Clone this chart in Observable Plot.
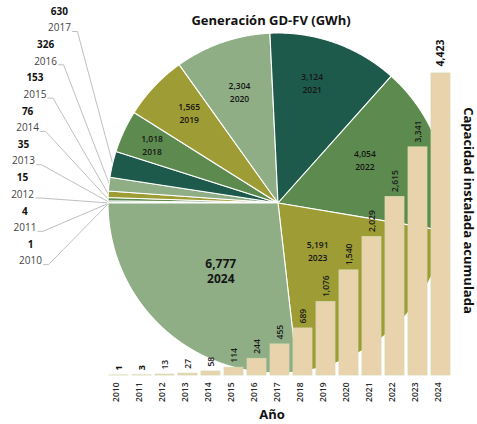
<!DOCTYPE html>
<html>
<head>
<meta charset="utf-8">
<script src="https://cdn.jsdelivr.net/npm/d3@7"></script>
<script src="https://cdn.jsdelivr.net/npm/@observablehq/plot@0.6"></script>
<style>
  body { margin: 0; background: #fff; }
  #chart { position: relative; width: 477px; height: 424px; }
  #chart svg { position: absolute; left: 0; top: 0; }
</style>
</head>
<body>
<div id="chart"></div>
<script>
// ---- data ----
const years = [2010, 2011, 2012, 2013, 2014, 2015, 2016, 2017, 2018, 2019, 2020, 2021, 2022, 2023, 2024];
const generation = [1, 4, 15, 35, 76, 153, 326, 630, 1018, 1565, 2304, 3124, 4054, 5191, 6777]; // GWh
const capacity = [1, 3, 13, 27, 58, 114, 244, 455, 689, 1076, 1540, 2029, 2615, 3341, 4423];     // accumulated
const titleText = "Generación GD-FV (GWh)";
const rightTitle = "Capacidad instalada acumulada";
const xTitle = "Año";

// ---- layout / style ----
const W = 477, H = 424;
const CX = 278, CY = 203, R = 170;
const palette = ["#8fae86", "#9e9c35", "#5d8a4f", "#1e5a4b"];
const colorOf = y => palette[(2024 - y) % 4];
const fmt = d3.format(",");
const font = "'Open Sans', 'Noto Sans', sans-serif";

const rows = years.map((y, i) => ({year: String(y), yr: y, gen: generation[i], cap: capacity[i]}));

// pie geometry from d3.pie
const arcs = d3.pie().sort(null).value(d => d.gen)
  .startAngle(-Math.PI / 2).endAngle(3 * Math.PI / 2)(rows);

const slicePts = arcs.flatMap(a => {
  const n = Math.max(2, Math.ceil((a.endAngle - a.startAngle) / 0.004));
  return d3.range(n + 1).map(k => {
    const t = a.startAngle + (a.endAngle - a.startAngle) * k / n;
    return {year: a.data.year, color: colorOf(a.data.yr), px: R * Math.sin(t), py: -R * Math.cos(t), cx: 0, cy: 0};
  });
});

// in-slice labels (angle fraction within slice, radius fraction)
const labelPlace = {2018: [0.5, 0.82], 2019: [0.6, 0.75], 2020: [0.5, 0.7], 2021: [0.41, 0.74],
                    2022: [0.37, 0.57], 2023: [0.55, 0.36], 2024: [0.49, 0.52]};
const inLabels = arcs.filter(a => labelPlace[a.data.yr]).map(a => {
  const [t, rf] = labelPlace[a.data.yr];
  const ang = a.startAngle + (a.endAngle - a.startAngle) * t;
  return {yr: a.data.yr, text: fmt(a.data.gen) + "\n" + a.data.year,
          x: rf * R * Math.sin(ang), y: -rf * R * Math.cos(ang)};
});

// leader labels for small slices (2010–2017)
const smallArcs = arcs.filter(a => a.data.yr <= 2017);
const leader = smallArcs.map(a => {
  const k = 2017 - a.data.yr;
  const vy = 11 + 33.3 * k;
  const cxp = 22 + 0.00146 * (vy - 170) ** 2;
  const mid = (a.startAngle + a.endAngle) / 2;
  return {year: a.data.year, val: fmt(a.data.gen),
          vx: cxp - CX, vy: vy - CY, yx: cxp - CX, yy: vy + 16.5 - CY,
          pts: [
            {x: cxp + 13 - CX, y: vy + 20 - CY},
            {x: cxp + 18 - CX, y: vy + 20 - CY},
            {x: R * Math.sin(mid), y: -R * Math.cos(mid)}
          ]};
});
const leaderPts = leader.flatMap(l => l.pts.map(p => ({...p, year: l.year})));

// ---- plot 1: pie ----
const pie = Plot.plot({
  width: W, height: H,
  marginTop: 0, marginBottom: 0, marginLeft: 0, marginRight: 0,
  x: {domain: [-CX, W - CX], range: [0, W], axis: null},
  y: {domain: [-CY, H - CY], range: [0, H], axis: null},
  color: {type: "identity"},
  style: {fontFamily: font, background: "white"},
  marks: [
    Plot.line(leaderPts, {x: "x", y: "y", z: "year", stroke: "#b8b8b8", strokeWidth: 0.9}),
    Plot.area(slicePts, {x1: "cx", y1: "cy", x2: "px", y2: "py", z: "year", fill: "color", stroke: "white", strokeWidth: 1.1}),
    Plot.text(inLabels.filter(d => d.yr !== 2024), {x: "x", y: "y", text: "text", fontSize: 8.5, fontWeight: 600, lineHeight: 1.5, fill: "#151515"}),
    Plot.text(inLabels.filter(d => d.yr === 2024), {x: "x", y: "y", text: "text", fontSize: 12, fontWeight: "bold", lineHeight: 1.3, fill: "#151515"}),
    Plot.text(leader, {x: "vx", y: "vy", text: "val", fontSize: 10, fontWeight: "bold", fill: "#111"}),
    Plot.text(leader, {x: "yx", y: "yy", text: "year", fontSize: 10, fill: "#444"})
  ]
});

// ---- plot 2: bars ----
const bars = Plot.plot({
  width: W, height: H,
  marginTop: 73, marginBottom: 49, marginLeft: 105, marginRight: 23,
  x: {domain: rows.map(d => d.year), padding: 0.17, axis: null},
  y: {domain: [0, 4423], axis: null},
  style: {fontFamily: font, background: "transparent"},
  marks: [
    Plot.barY(rows, {x: "year", y: "cap", fill: "#e9d3ad", stroke: "#d6d9ae", strokeWidth: 0.8}),
    Plot.text(rows.filter(d => d.yr <= 2011), {x: "year", y: "cap", text: d => fmt(d.cap), rotate: -90, textAnchor: "start", dy: -5, fontSize: 9, fontWeight: "bold", fill: "#111"}),
    Plot.text(rows.filter(d => d.yr > 2011 && d.yr < 2024), {x: "year", y: "cap", text: d => fmt(d.cap), rotate: -90, textAnchor: "start", dy: -5, fontSize: 8.5, fontWeight: 600, fill: "#1a1a1a"}),
    Plot.text(rows.filter(d => d.yr === 2024), {x: "year", y: "cap", text: d => fmt(d.cap), rotate: -90, textAnchor: "start", dy: -7, fontSize: 10.5, fontWeight: "bold", fill: "#111"}),
    Plot.text(rows, {x: "year", frameAnchor: "bottom", text: "year", rotate: -90, textAnchor: "end", dy: 7, fontSize: 8.5, fontWeight: 600, fill: "#2a2a2a"}),
    Plot.text([xTitle], {frameAnchor: "bottom", textAnchor: "middle", lineAnchor: "middle", dx: -8, dy: 39, fontSize: 13, fontWeight: "bold", fill: "#111"}),
    Plot.text([rightTitle], {frameAnchor: "right", textAnchor: "middle", lineAnchor: "middle", rotate: 90, dx: 14, dy: -14, fontSize: 13, fontWeight: "bold", fill: "#111"}),
    Plot.text([titleText], {frameAnchor: "top", textAnchor: "middle", lineAnchor: "middle", dx: -9, dy: -53, fontSize: 13, fontWeight: "bold", fill: "#111"})
  ]
});

const el = document.getElementById("chart");
el.appendChild(pie);
el.appendChild(bars);
</script>
</body>
</html>
